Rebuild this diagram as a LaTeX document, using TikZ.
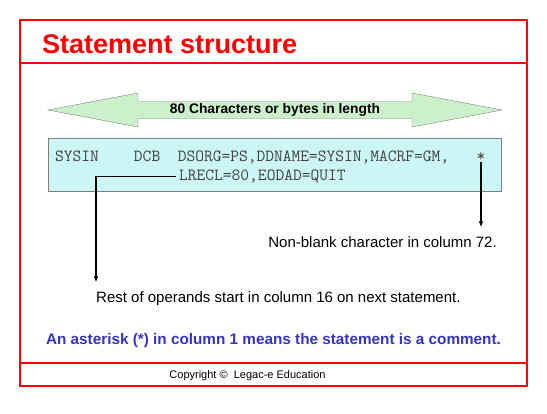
\documentclass[tikz,border=0pt]{standalone}
\usepackage{fontspec}
\setmainfont{Liberation Sans}
\usepackage{xcolor}
\usepackage{tikz}
\usetikzlibrary{arrows.meta,calc,positioning}
\definecolor{legacred}{HTML}{FF0000}
\definecolor{legacblue}{HTML}{3333CC}
\definecolor{cardcyan}{HTML}{CCF5F5}
\definecolor{spangreen}{HTML}{CCF0CC}

\begin{document}
\begin{tikzpicture}[x=1pt,y=-1pt,>={Latex[length=6pt,width=4.5pt]},
    slideline/.style={draw=legacred,line width=2pt},
    callout/.style={font=\fontsize{15}{18}\selectfont,inner xsep=0pt,inner ysep=8.5pt},
    codeline/.style={font=\ttfamily\fontsize{17}{19}\selectfont,text=black!75,
      inner sep=0pt,anchor=base west},
    pointer/.style={->,line width=1.3pt}]
  \useasboundingbox (0,0) rectangle (547,413);
  \draw[slideline] (20,20) rectangle (527,386);
  \draw[slideline] (20,63) -- (527,63);
  \draw[slideline] (20,363) -- (527,363);
  \node[font=\bfseries\fontsize{27}{30}\selectfont,text=legacred,inner sep=0pt,
    anchor=base west] (title) at (42,53) {Statement structure};

  % 80 column span
  \draw[gray,fill=spangreen] (48,110) -- (138,93) -- (138,101.5) -- (412,101.5)
    -- (412,93) -- (502,110) -- (412,127) -- (412,118.5) -- (138,118.5)
    -- (138,127) -- cycle;
  \node[font=\bfseries\fontsize{13.8}{16}\selectfont] (span) at (275,110)
    {80 Characters or bytes in length};

  % the statement
  \node[draw=gray,fill=cardcyan,minimum width=453pt,minimum height=53pt,
    anchor=north west] (card) at (48,138) {};
  \node[codeline] (line1) at (55,161.5)
    {SYSIN\ \ \ \ DCB\ \ DSORG=PS,DDNAME=SYSIN,MACRF=GM,};
  \node[codeline,anchor=base] (star) at (481,161.5) {*};
  \node[codeline] (line2) at (179,180.5) {LRECL=80,EODAD=QUIT};

  \node[callout,anchor=base east] (blank) at (497,247)
    {Non-blank character in column 72.};
  \node[callout,anchor=base west] (rest) at (96,302)
    {Rest of operands start in column 16 on next statement.};
  \draw[pointer] (star.south) -- (star.south |- blank.north);
  \draw[pointer] ([xshift=-3pt]line2.west) -| (rest.north west);

  \node[font=\bfseries\fontsize{15.3}{18}\selectfont,text=legacblue] (comment)
    at (273.5,341) {An asterisk (*) in column 1 means the statement is a comment.};
  \node[font=\fontsize{11}{13}\selectfont] (copy) at (247.5,376)
    {Copyright ©\ \ Legac-e Education};
\end{tikzpicture}
\end{document}
